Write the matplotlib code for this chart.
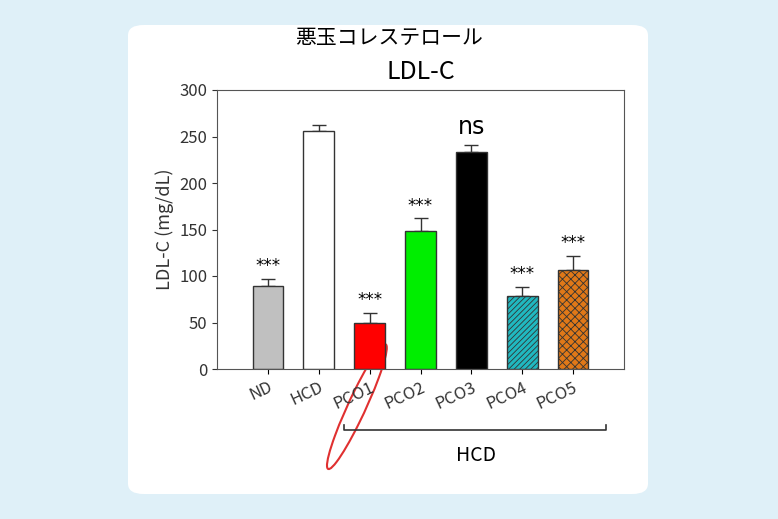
import matplotlib.pyplot as plt
from matplotlib.patches import FancyBboxPatch, Ellipse

plt.rcParams['font.family'] = ['Noto Sans CJK JP', 'DejaVu Sans']
plt.rcParams['hatch.linewidth'] = 0.6

groups = ['ND', 'HCD', 'PCO1', 'PCO2', 'PCO3', 'PCO4', 'PCO5']
values = [89, 256, 49, 148, 233, 78, 106]
errors = [8, 6, 11, 14, 8, 10, 16]
marks = ['***', '', '***', '***', 'ns', '***', '***']
colors = ['#c0c0c0', '#ffffff', '#ff0000', '#00ee00', '#000000', '#20b8c0', '#e07818']
hatches = [None, None, None, None, None, '//////', 'xxxx']

fig = plt.figure(figsize=(7.78, 5.19), dpi=100)
fig.patch.set_facecolor('#dff0f8')
card = FancyBboxPatch((128 / 778, 25 / 519), 520 / 778, 469 / 519,
                      boxstyle='round,pad=0,rounding_size=0.02',
                      transform=fig.transFigure, facecolor='white', edgecolor='none',
                      zorder=-10)
fig.patches.append(card)

ax = fig.add_axes([217 / 778, 150 / 519, 407 / 778, 279 / 519])
ax.set_facecolor('white')
x = range(len(groups))
for i in x:
    ax.bar(i, values[i], width=0.6, color=colors[i], edgecolor='#333333',
           linewidth=1, hatch=hatches[i], zorder=2)
    ax.errorbar(i, values[i], yerr=[[0], [errors[i]]], color='#333333',
                capsize=5, linewidth=1, zorder=1)
    if marks[i] == 'ns':
        ax.text(i, values[i] + errors[i] + 6, 'ns', ha='center', va='bottom',
                fontsize=17, family='DejaVu Sans')
    elif marks[i]:
        ax.text(i, values[i] + errors[i] + 4, marks[i], ha='center', va='bottom',
                fontsize=12, family='DejaVu Sans')

ax.set_xlim(-1, 7)
ax.set_ylim(0, 300)
ax.set_yticks(range(0, 301, 50))
ax.set_xticks(list(x))
ax.set_xticklabels(groups, rotation=25, ha='right', rotation_mode='anchor',
                   fontsize=12, color='#333333')
ax.tick_params(axis='y', labelsize=12, colors='#333333', direction='out')
ax.tick_params(axis='x', direction='out')
for s in ax.spines.values():
    s.set_color('#555555')
ax.set_ylabel('LDL-C (mg/dL)', fontsize=13, color='#333333')
ax.set_title('LDL-C', fontsize=18, pad=8)
fig.text(0.5, 0.927, '悪玉コレステロール', ha='center', va='center', fontsize=15)

# group bracket for HCD-fed PCO groups
ax.plot([1.5, 1.5, 6.65, 6.65], [-0.2, -0.22, -0.22, -0.2], color='#333333',
        linewidth=1.2, transform=ax.get_xaxis_transform(), clip_on=False)
ax.text(4.1, -0.33, 'HCD', ha='center', fontsize=14, transform=ax.get_xaxis_transform())
ax.add_patch(Ellipse((1.75, -0.135), 1.25, 0.14, angle=20, fill=False,
                     edgecolor='#e03030', linewidth=1.5,
                     transform=ax.get_xaxis_transform(), clip_on=False))

plt.savefig('out.png', dpi=100, facecolor=fig.get_facecolor())
